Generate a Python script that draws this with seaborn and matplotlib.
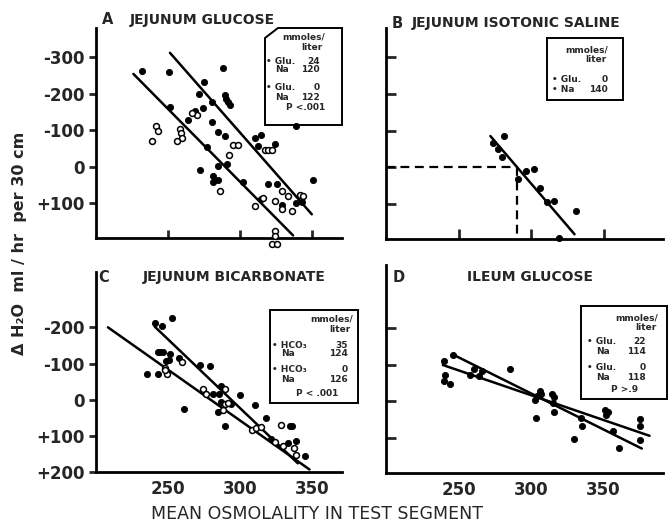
import numpy as np
import pandas as pd
import matplotlib as mpl
from matplotlib import pyplot as plt
from matplotlib.patches import Polygon
import seaborn as sns

sns.set_style('ticks')
plt.rcParams['font.family'] = ['DejaVu Sans']

W, H = 668, 523

# ---- data (osmolality, delta H2O) ----
# panel A: jejunum glucose
a_fill_x = [231.7, 250.9, 288.4, 275.2, 251.4, 271.5, 274.1, 280.6, 289.4, 290.3, 291.7, 293.0,
            264.1, 268.8, 280.3, 284.9, 289.6, 276.9, 290.8, 284.9, 272.2, 281.5, 285.0, 281.5,
            301.9, 338.9, 350.5, 310.4, 314.6, 312.7, 324.3, 319.7, 314.6, 325.5, 343.5, 338.9, 329.2]
a_fill_y = [-263, -260, -270, -231, -163, -199, -160, -176, -195, -185, -178, -170,
            -128, -151, -121, -96, -83, -54, -7, -1, 10, 25, 36, 43,
            42, -110, 38, -78, -87, -55, -63, 49, 90, 49, 98, 99, 106]
a_open_x = [241.5, 243.3, 239.1, 258.3, 259.0, 259.5, 256.0, 269.9, 266.5, 292.4, 295.1, 298.6,
            286.1, 317.4, 319.4, 322.0, 316.2, 324.3, 329.0, 329.0, 335.9, 333.5, 341.7, 343.8,
            310.4, 324.3, 324.3, 322.2, 325.7]
a_open_y = [-110, -98, -69, -104, -91, -78, -69, -142, -147, -31, -59, -59,
            68, -46, -46, -46, 86, 95, 67, 117, 122, 81, 77, 81,
            108, 177, 191, 213, 213]
a_line1 = ([226, 337], [-254, 189])
a_line2 = ([251.4, 350], [-312, 131])

# panel B: jejunum isotonic saline
b_x = [281.7, 273.8, 277.2, 280.1, 296.6, 302.3, 290.9, 306.3, 311.0, 315.5, 330.8, 319.4]
b_y = [-85, -65, -51, -27, 10, 4, 33, 56, 95, 91, 119, 192]
b_line = ([272, 330], [-85, 183])
b_iso = 290  # isotonic osmolality at zero flux

# panel C: jejunum bicarbonate
c_fill_x = [240.8, 246.0, 252.8, 243.1, 244.8, 246.5, 251.6, 250.7, 248.6, 235.6, 243.1, 257.6,
            272.0, 279.4, 261.1, 281.3, 285.2, 287.0, 299.8, 284.7, 287.0, 294.0, 290.0, 310.6,
            318.3, 321.7, 335.1, 336.3, 333.3, 339.1, 345.6]
c_fill_y = [-213, -204, -227, -131, -131, -131, -127, -110, -108, -71, -71, -116,
            -96, -94, 26, -16, -16, -39, -12, 34, 6, 11, 73, 16,
            50, 108, 72, 72, 121, 115, 157]
c_open_x = [247.9, 249.5, 247.7, 259.9, 274.3, 276.6, 289.4, 289.4, 291.7, 288.2, 308.3, 311.3,
            314.8, 324.1, 328.7, 329.9, 337.5, 339.1]
c_open_y = [-88, -71, -83, -104, -29, -16, -29, 11, 9, 28, 83, 78,
            76, 118, 69, 129, 133, 154]
c_line1 = ([208.3, 348.4], [-200, 193])
c_line2 = ([240.8, 340.3], [-202, 176])

# panel D: ileum glucose
d_x = [239.8, 246.1, 241.0, 239.8, 244.3, 257.6, 260.4, 264.0, 266.4, 285.3, 302.6, 303.8,
       306.1, 307.2, 303.3, 314.6, 315.7, 315.3, 315.7, 334.2, 334.9, 329.6, 351.0, 353.3,
       351.7, 356.8, 361.0, 374.8, 374.8, 375.3]
d_y = [-110, -126, -71, -55, -48, -71, -88, -68, -83, -88, -3, -14,
       -27, -19, 45, -19, -11, 6, 29, 47, 68, 105, 25, 29,
       38, 82, 128, 50, 68, 107]
d_line1 = ([247, 376.4], [-126, 130])
d_line2 = ([239.2, 381.7], [-99, 95])

titles = ['JEJUNUM GLUCOSE', 'JEJUNUM ISOTONIC SALINE', 'JEJUNUM BICARBONATE', 'ILEUM GLUCOSE']
letters = ['A', 'B', 'C', 'D']
ticks_ab = [-300, -200, -100, 0, 100]
ticks_ab_lbl = ['-300', '-200', '-100', '0', '+100']
ticks_c = [-200, -100, 0, 100, 200]
ticks_c_lbl = ['-200', '-100', '0', '+100', '+200']
ticks_d = [-200, -100, 0, 100]
x_ticks = [250, 300, 350]

leg_a = [('• Glu.', '24'), ('Na', '120'), ('• Glu.', '0'), ('Na', '122')]
leg_b = [('• Glu.', '0'), ('• Na', '140')]
leg_c = [('• HCO₃', '35'), ('Na', '124'), ('• HCO₃', '0'), ('Na', '126')]
leg_d = [('• Glu.', '22'), ('Na', '114'), ('• Glu.', '0'), ('Na', '118')]
p_vals = ['P <.001', None, 'P < .001', 'P >.9']


def fx(x):
    return x / W


def fy(y):
    return 1 - y / H


def axes_px(left, top, right, bottom):
    return fig.add_axes([fx(left), fy(bottom), (right - left) / W, (bottom - top) / H])


fig = plt.figure(figsize=(W / 100, H / 100), dpi=100)
axA = axes_px(96, 28, 342, 238)
axB = axes_px(386, 28, 663, 239)
axC = axes_px(96, 272, 342, 472)
axD = axes_px(386, 265, 663, 473)

filled = dict(color='black', s=20, edgecolor='black', linewidth=0.6, clip_on=False, zorder=3)
hollow = dict(facecolor='white', s=18, edgecolor='black', linewidth=1.1, clip_on=False, zorder=3)
fit = dict(color='black', linewidth=1.8, estimator=None, sort=False)

sns.scatterplot(x=a_fill_x, y=a_fill_y, ax=axA, **filled)
sns.scatterplot(x=a_open_x, y=a_open_y, ax=axA, **hollow)
for ln in (a_line1, a_line2):
    sns.lineplot(x=ln[0], y=ln[1], ax=axA, **fit)

sns.scatterplot(x=b_x, y=b_y, ax=axB, **filled)
sns.lineplot(x=b_line[0], y=b_line[1], ax=axB, **fit)
axB.plot([200, b_iso], [0, 0], color='black', lw=1.6, ls=(0, (4, 2.5)))
axB.plot([b_iso, b_iso], [0, 196], color='black', lw=1.6, ls=(0, (4, 2.5)))

sns.scatterplot(x=c_fill_x, y=c_fill_y, ax=axC, **filled)
sns.scatterplot(x=c_open_x, y=c_open_y, ax=axC, **hollow)
for ln in (c_line1, c_line2):
    sns.lineplot(x=ln[0], y=ln[1], ax=axC, **fit)

sns.scatterplot(x=d_x, y=d_y, ax=axD, **filled)
for ln in (d_line1, d_line2):
    sns.lineplot(x=ln[0], y=ln[1], ax=axD, **fit)

axA.set_xlim(200, 371); axA.set_ylim(196, -380)
axB.set_xlim(200, 391); axB.set_ylim(196, -380)
axC.set_xlim(200, 371); axC.set_ylim(198, -353)
axD.set_xlim(200, 391); axD.set_ylim(197, -373)

for ax in (axA, axB, axC, axD):
    sns.despine(ax=ax)
    ax.set_facecolor('none')
    for s in ('left', 'bottom'):
        ax.spines[s].set_linewidth(2)
        ax.spines[s].set_color('black')
    ax.set_xlabel('')
    ax.set_ylabel('')
    ax.set_xticks(x_ticks)

tick_font = dict(fontsize=12, fontweight='bold')
axA.set_yticks(ticks_ab, ticks_ab_lbl, **tick_font)
axA.set_xticklabels([])
axA.tick_params(axis='y', direction='out', length=5, width=2, pad=3)
axA.tick_params(axis='x', direction='in', length=6, width=2)

axB.set_yticks(ticks_ab, [])
axB.set_xticklabels([])
axB.tick_params(axis='both', direction='in', length=7, width=2)

axC.set_yticks(ticks_c, ticks_c_lbl, **tick_font)
axC.set_xticks(x_ticks, [str(t) for t in x_ticks], **tick_font)
axC.tick_params(axis='y', direction='out', length=5, width=2, pad=3)
axC.tick_params(axis='x', direction='in', length=0, pad=6)

axD.set_yticks(ticks_d, [])
axD.set_xticks(x_ticks, [str(t) for t in x_ticks], **tick_font)
axD.tick_params(axis='y', direction='in', length=7, width=2)
axD.tick_params(axis='x', direction='in', length=0, pad=6)

# panel titles
letter_pos = [(108, 20), (397, 23), (104, 277), (399, 277)]
title_pos = [(130, 20), (412, 23), (143, 277), (467, 277)]
for L, T, (lx, ly), (tx, ty) in zip(letters, titles, letter_pos, title_pos):
    fig.text(fx(lx), fy(ly), L, ha='center', va='center', fontsize=10.5, fontweight='bold')
    fig.text(fx(tx), fy(ty), T, ha='left', va='center', fontsize=10, fontweight='bold')

# axis labels
fig.text(fx(20), fy(243), 'Δ H₂O  ml / hr  per 30 cm', rotation=90, ha='center', va='center',
         fontsize=11.5, fontweight='bold')
fig.text(fx(317), fy(514), 'MEAN OSMOLALITY IN TEST SEGMENT', ha='center', va='center',
         fontsize=12.5)

# key boxes
small = dict(fontsize=6.5, fontweight='bold', va='center')


def key_box(corners, head, rows, pval, x_left, x_right, y_rows, x_name=None):
    fig.patches.append(Polygon([(fx(x), fy(y)) for x, y in corners], closed=True, fill=False,
                               edgecolor='black', linewidth=1.4, transform=fig.transFigure))
    fig.text(fx(head[0]), fy(head[1]), 'mmoles/', ha='right', **small)
    fig.text(fx(head[0] - 2), fy(head[1] + 10), 'liter', ha='right', **small)
    for (name, val), yy in zip(rows, y_rows):
        xl = x_left if name.startswith('•') else (x_name or x_left + 9)
        fig.text(fx(xl), fy(yy), name, ha='left', **small)
        fig.text(fx(x_right), fy(yy), val, ha='right', **small)
    if pval:
        fig.text(fx(pval[1]), fy(pval[2]), pval[0], ha='right', **small)


key_box([(265, 38), (278, 28), (342, 28), (342, 125), (265, 125)], (325, 37), leg_a,
        (p_vals[0], 325, 108), 266, 320, [61, 70, 87, 97])
key_box([(547, 38), (623, 38), (623, 100), (547, 100)], (608, 50), leg_b,
        None, 552, 608, [80, 90])
key_box([(270, 310), (358, 310), (358, 403), (270, 403)], (353, 319), leg_c,
        (p_vals[2], 338, 393), 272, 348, [345, 354, 370, 380])
key_box([(581, 306), (667, 306), (667, 399), (581, 399)], (658, 318), leg_d,
        (p_vals[3], 638, 389), 587, 646, [341, 351, 367, 378])

fig.savefig('out.png', dpi=100, facecolor='white')
